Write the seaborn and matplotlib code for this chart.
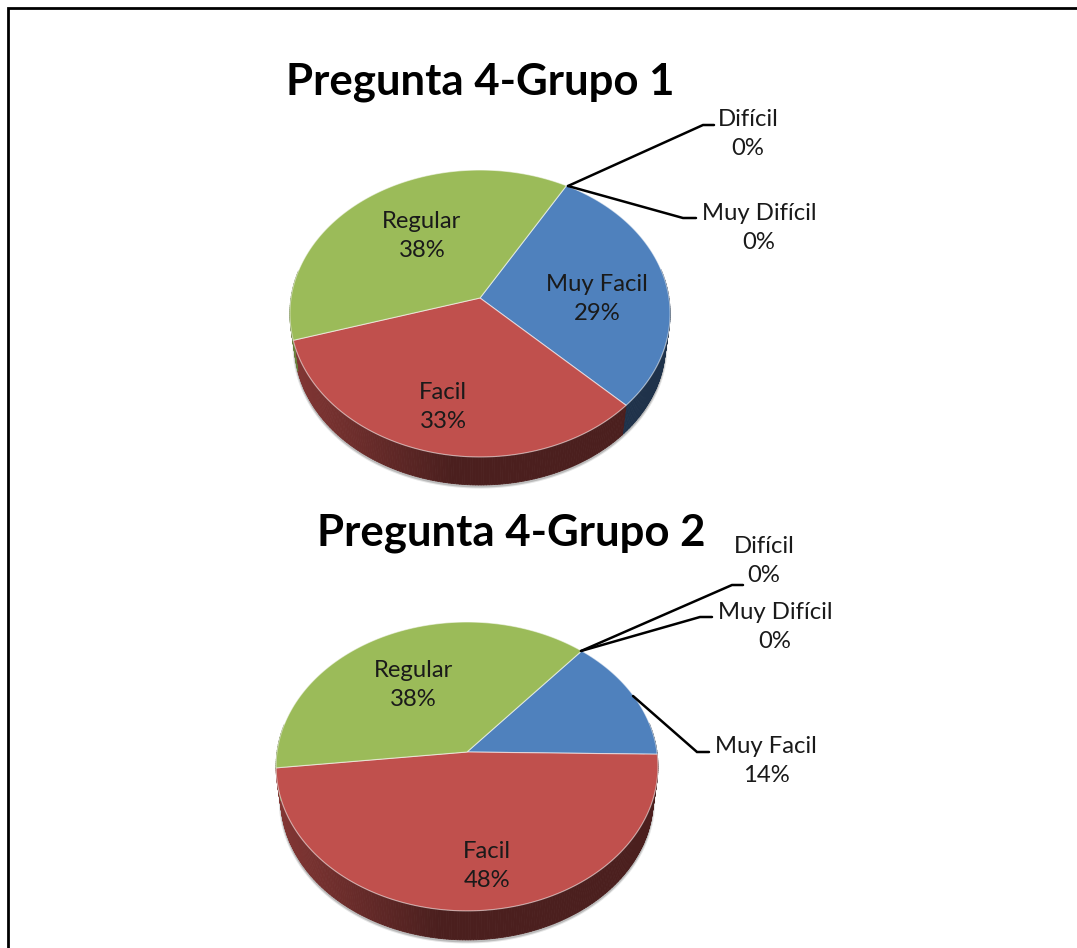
import numpy as np
import matplotlib
matplotlib.use("Agg")
import matplotlib.pyplot as plt
from matplotlib.patches import Polygon
from matplotlib.collections import PolyCollection
import seaborn as sns

categories = ["Muy Facil", "Facil", "Regular", "Difícil", "Muy Difícil"]
grupo1 = [29, 33, 38, 0, 0]
grupo2 = [14, 48, 38, 0, 0]
titles = ["Pregunta 4-Grupo 1", "Pregunta 4-Grupo 2"]
palette = ["#4f81bd", "#c0504d", "#9bbb59", "#8064a2", "#4bacc6"]

sns.set_theme(style="white")
plt.rcParams["font.family"] = ["Lato", "DejaVu Sans"]

W, H = 1077, 948
fig = plt.figure(figsize=(W / 100, H / 100), dpi=100, facecolor="white")
ax = fig.add_axes([0, 0, 1, 1])
ax.set_xlim(0, W)
ax.set_ylim(H, 0)
ax.axis("off")
helper = fig.add_axes([0, 0, 0.01, 0.01])
helper.set_visible(False)


def project(theta, r, geom, scale=1.0, shift=0.0):
    cx, cy, a, b, k = geom
    w = 1 + k * r * np.sin(theta)
    x = cx + scale * a * r * np.cos(theta) / w
    y = cy - scale * b * r * np.sin(theta) / w + shift
    return x, y


def draw_pie(values, start, geom, depth, scale=0.975):
    wedges, _ = helper.pie(values, colors=palette, startangle=start,
                           counterclock=False, radius=1)
    cx = geom[0]
    a = geom[2]
    # soft shadow under the lower rim
    th = np.radians(np.linspace(-180, 0, 200))
    sx, sy = project(th, 1, geom, scale, depth + 1.5)
    ax.plot(sx, sy, color="#000000", alpha=0.10, lw=3.0, zorder=1)
    ax.plot(sx, sy, color="#000000", alpha=0.18, lw=1.5, zorder=1)
    # side wall
    quads, cols = [], []
    for wd in wedges:
        if wd.theta2 - wd.theta1 <= 0:
            continue
        base = np.array(matplotlib.colors.to_rgb(wd.get_facecolor()))
        angs = np.arange(wd.theta1, wd.theta2 + 0.75, 0.75)
        angs = np.radians(np.clip(angs, wd.theta1, wd.theta2))
        for t0, t1 in zip(angs[:-1], angs[1:]):
            if np.sin(0.5 * (t0 + t1)) > 0.2:
                continue
            x0, y0 = project(t0, 1, geom)
            x1, y1 = project(t1, 1, geom)
            x2, y2 = project(t1, 1, geom, scale, depth)
            x3, y3 = project(t0, 1, geom, scale, depth)
            quads.append([(x0, y0), (x1, y1), (x2, y2), (x3, y3)])
            frac = np.clip((0.5 * (x0 + x1) - (cx - a)) / (0.85 * a), 0, 1)
            cols.append(base * (0.68 - 0.29 * frac))
    ax.add_collection(PolyCollection(quads, facecolors=cols, edgecolors=cols,
                                     linewidths=0.6, zorder=2))
    # top face
    for wd in wedges:
        if wd.theta2 - wd.theta1 <= 0:
            continue
        th = np.radians(np.linspace(wd.theta1, wd.theta2, 200))
        x, y = project(th, 1, geom)
        pts = np.r_[[(geom[0], geom[1])], np.c_[x, y]]
        ax.add_patch(Polygon(pts, closed=True, facecolor=wd.get_facecolor(),
                             edgecolor=(1, 1, 1, 0.55), linewidth=0.8, zorder=3))


draw_pie(grupo1, 60, (480, 298, 189, 141.8, 0.108), 32)
draw_pie(grupo2, 49.5, (467, 752, 190, 143, 0.10), 33)


def label(i, values, x, y):
    ax.text(x, y, f"{categories[i]}\n{values[i]}%", ha="center", va="center",
            fontsize=17.2, color="#1a1a1a", linespacing=1.5, zorder=5)


for i, x, y in [(0, 597, 299), (1, 443, 407), (2, 422, 236), (3, 748, 134), (4, 759, 228)]:
    label(i, grupo1, x, y)
for i, x, y in [(0, 766, 761), (1, 487, 866), (2, 413, 685), (3, 764, 561), (4, 775, 627)]:
    label(i, grupo2, x, y)

ax.text(480, 82, titles[0], ha="center", va="center", fontsize=31.5, fontweight="bold",
        color="black", zorder=5)
ax.text(511, 533, titles[1], ha="center", va="center", fontsize=31.5, fontweight="bold",
        color="black", zorder=5)

for xs, ys in [([568, 703, 714], [186, 125, 125]),
               ([568, 683, 696], [186, 218, 218]),
               ([581, 732, 743], [651, 585, 585]),
               ([581, 700, 712], [651, 617, 617]),
               ([633, 697, 709], [696, 752, 752])]:
    ax.plot(xs, ys, color="black", lw=1.8, solid_joinstyle="miter", zorder=4)

ax.plot([8, 8, W], [H, 8, 8], color="black", lw=2.0, solid_joinstyle="miter", zorder=6)

fig.savefig("out.png", dpi=100, facecolor="white")
